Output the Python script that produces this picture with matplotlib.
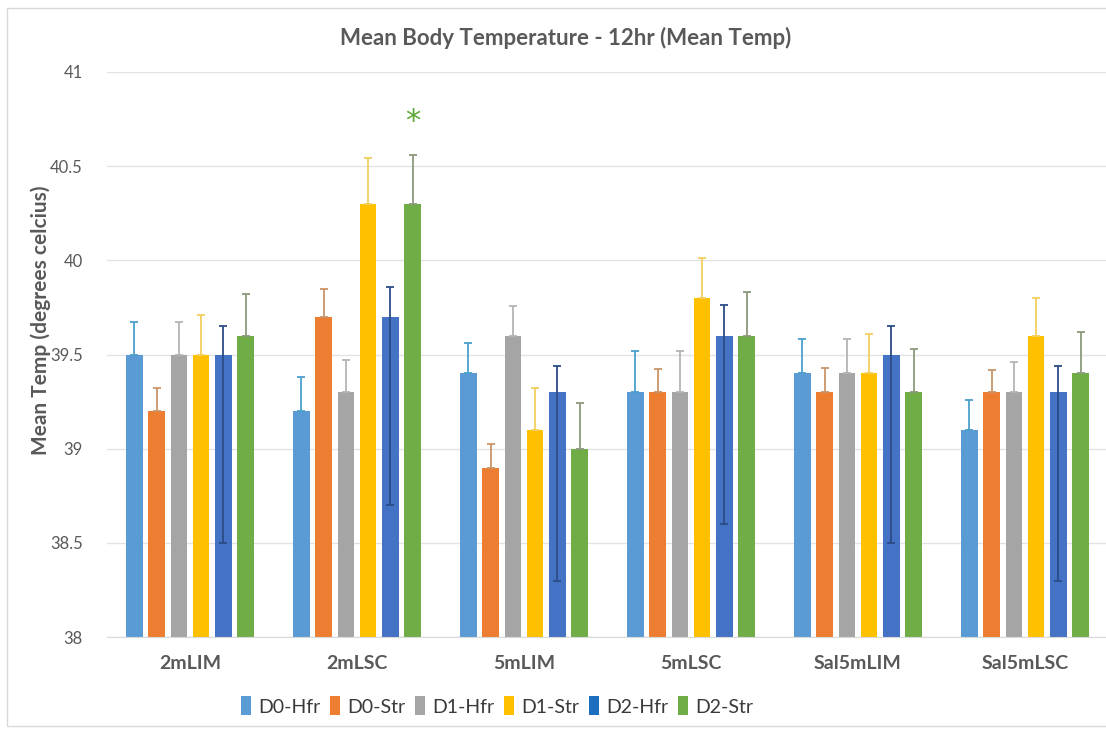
import matplotlib
matplotlib.use("Agg")
import matplotlib.pyplot as plt
import numpy as np
from matplotlib.patches import Rectangle, Patch

plt.rcParams['font.family'] = ['Lato', 'DejaVu Sans']

categories = ["2mLIM", "2mLSC", "5mLIM", "5mLSC", "Sal5mLIM", "Sal5mLSC"]
series = ["D0-Hfr", "D0-Str", "D1-Hfr", "D1-Str", "D2-Hfr", "D2-Str"]

d0_hfr = [39.5, 39.2, 39.4, 39.3, 39.4, 39.1]
d0_str = [39.2, 39.7, 38.9, 39.3, 39.3, 39.3]
d1_hfr = [39.5, 39.3, 39.6, 39.3, 39.4, 39.3]
d1_str = [39.5, 40.3, 39.1, 39.8, 39.4, 39.6]
d2_hfr = [39.5, 39.7, 39.3, 39.6, 39.5, 39.3]
d2_str = [39.6, 40.3, 39.0, 39.6, 39.3, 39.4]

# upper error bar lengths
err_d0_hfr = [0.17, 0.18, 0.16, 0.22, 0.18, 0.16]
err_d0_str = [0.12, 0.15, 0.125, 0.125, 0.13, 0.12]
err_d1_hfr = [0.17, 0.17, 0.16, 0.22, 0.18, 0.16]
err_d1_str = [0.21, 0.245, 0.22, 0.21, 0.21, 0.2]
err_d2_hfr = [0.15, 0.16, 0.14, 0.165, 0.15, 0.14]
err_d2_str = [0.22, 0.26, 0.24, 0.23, 0.23, 0.22]
# lower error bar lengths (only D2-Hfr shows them)
low_d2_hfr = [1.0, 1.0, 1.0, 1.0, 1.0, 1.0]

values = [d0_hfr, d0_str, d1_hfr, d1_str, d2_hfr, d2_str]
upper = [err_d0_hfr, err_d0_str, err_d1_hfr, err_d1_str, err_d2_hfr, err_d2_str]
lower = [None, None, None, None, low_d2_hfr, None]

bar_colors = ["#5B9BD5", "#ED7D31", "#A5A5A5", "#FFC000", "#4472C4", "#70AD47"]
err_colors = ["#4A9FCC", "#C99468", "#B4B4B4", "#F2CF5E", "#2B4C86", "#8C9A7C"]
legend_colors = ["#5B9BD5", "#ED7D31", "#A5A5A5", "#FFC000", "#1F6FC0", "#70AD47"]

fig = plt.figure(figsize=(11.06, 7.31), dpi=100)
W, H = 1106, 731
ax = fig.add_axes([106.5 / W, 1 - 637 / H, (1108.5 - 106.5) / W, (637 - 72) / H])

x = np.arange(len(categories))
step = 0.1335
width = 0.099
for i, (vals, up, lo) in enumerate(zip(values, upper, lower)):
    pos = x + (i - 2.5) * step
    ax.bar(pos, np.array(vals) - 38, width, bottom=38, color=bar_colors[i],
           zorder=2)
    lo_arr = np.array(lo) if lo is not None else np.zeros(len(vals))
    ax.errorbar(pos, vals, yerr=[lo_arr, up], fmt='none', ecolor=err_colors[i],
                elinewidth=1.3, capsize=3, capthick=1.3, zorder=3)

# significance marker above D2-Str in 2mLSC
ax.text(1 + 2.5 * step, d2_str[1] + err_d2_str[1] + 0.1, "*", color="#5FA83A",
        ha="center", va="bottom", fontsize=22, family="DejaVu Sans")

ax.set_xlim(-0.5, len(categories) - 0.5)
ax.set_ylim(38, 41)
ax.set_yticks(np.arange(38, 41.01, 0.5))
ax.set_yticklabels(["38", "38.5", "39", "39.5", "40", "40.5", "41"])
ax.grid(axis='y', color="#E3E3E3", linewidth=1, zorder=0)
ax.set_axisbelow(True)
for s in ["top", "right", "left"]:
    ax.spines[s].set_visible(False)
ax.spines["bottom"].set_color("#D9D9D9")
ax.tick_params(axis='y', length=0, pad=17, labelsize=12, labelcolor="#595959")
ax.tick_params(axis='x', length=0, pad=13, labelsize=14, labelcolor="#595959")
ax.set_xticks(x)
ax.set_xticklabels(categories, fontweight="bold")

fig.text(41 / W, 1 - 320 / H, "Mean Temp (degrees celcius)", rotation=90,
         ha="center", va="center", fontsize=15, fontweight="bold", color="#595959")
fig.text(566 / W, 1 - 38 / H, "Mean Body Temperature - 12hr (Mean Temp)",
         ha="center", va="center", fontsize=16, fontweight="bold", color="#595959")

handles = [Patch(facecolor=c, edgecolor='none') for c in legend_colors]
fig.legend(handles, series, loc="center", bbox_to_anchor=(497 / W, 1 - 706 / H),
           ncol=6, frameon=False, fontsize=14, handlelength=0.52, handleheight=1.13,
           handletextpad=0.36, columnspacing=0.5, labelcolor="#3A3A3A")

fig.add_artist(Rectangle((7 / W, 1 - 726 / H), 1.2, (726 - 8) / H,
                         transform=fig.transFigure, fill=False,
                         edgecolor="#D9D9D9", linewidth=1))

fig.savefig("out.png", dpi=100, facecolor="white")
